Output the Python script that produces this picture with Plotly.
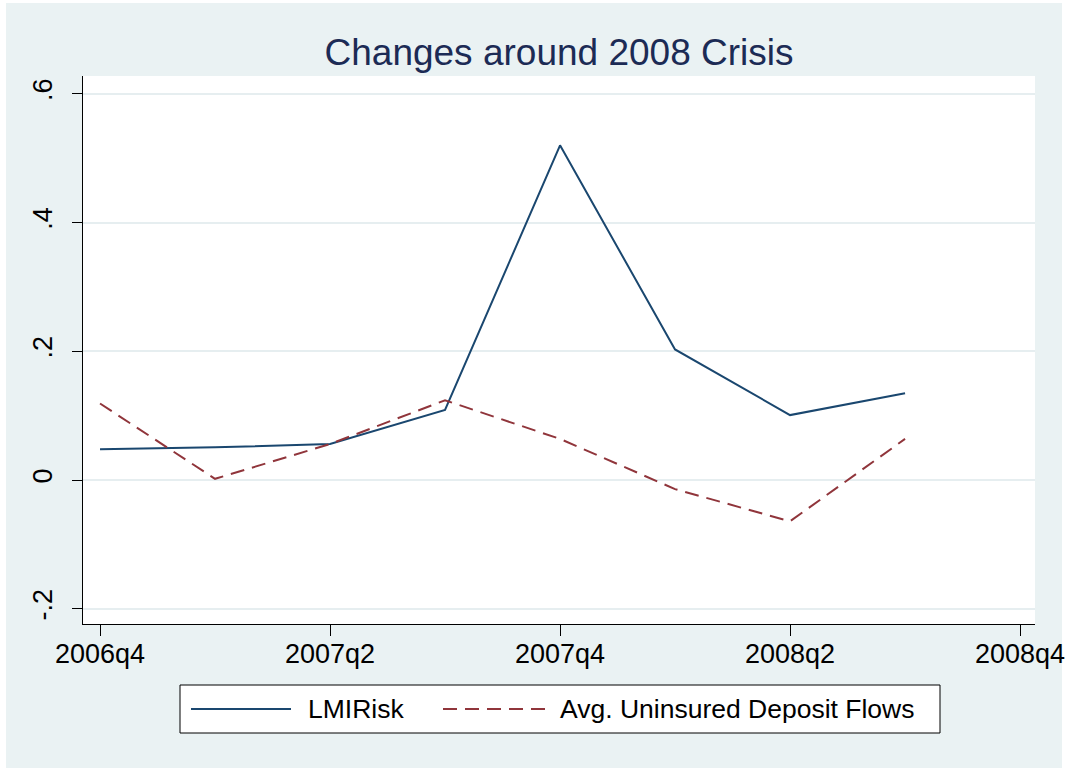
import plotly.graph_objects as go

# ---------------- data ----------------
quarters = ["2006q4", "2007q1", "2007q2", "2007q3", "2007q4", "2008q1", "2008q2", "2008q3"]
lmi_risk = [0.048, 0.051, 0.056, 0.109, 0.520, 0.203, 0.101, 0.135]
deposit_flows = [0.119, 0.002, 0.056, 0.124, 0.064, -0.014, -0.064, 0.064]
x_tick_labels = ["2006q4", "2007q2", "2007q4", "2008q2", "2008q4"]
y_tick_vals = [-0.2, 0.0, 0.2, 0.4, 0.6]
y_tick_text = ["-.2", "0", ".2", ".4", ".6"]
series_names = ["LMIRisk", "Avg. Uninsured Deposit Flows"]

# ---------------- style ----------------
W, H = 1065, 768
L, R, T, B = 83, 1035, 76, 624  # plot area in pixels
BG = "#EAF2F3"
NAVY = "#1a476f"
MAROON = "#90353b"
TITLE_C = "#1c2b55"
FONT = "Liberation Sans, Arial, sans-serif"

x_idx = list(range(len(quarters)))
tick_pos = [i * 2 for i in range(len(x_tick_labels))]


def px(xp):
    return (xp - L) / (R - L)


def py(yp):
    return (B - yp) / (B - T)


fig = go.Figure()
fig.add_trace(go.Scatter(x=x_idx, y=lmi_risk, mode="lines", name=series_names[0],
                         line=dict(color=NAVY, width=2)))
fig.add_trace(go.Scatter(x=x_idx, y=deposit_flows, mode="lines", name=series_names[1],
                         line=dict(color=MAROON, width=2, dash="14px,8px")))

shapes = [
    # outer graph region background
    dict(type="rect", xref="paper", yref="paper", x0=px(6), x1=px(1062), y0=py(H + 5), y1=py(3),
         fillcolor=BG, line=dict(width=0), layer="below"),
    # plot region
    dict(type="rect", xref="paper", yref="paper", x0=0, x1=1, y0=0, y1=1,
         fillcolor="white", line=dict(width=0), layer="below"),
    # legend box
    dict(type="rect", xref="paper", yref="paper", x0=px(180), x1=px(940), y0=py(733), y1=py(685),
         fillcolor="white", line=dict(color="black", width=1), layer="above"),
    # legend samples
    dict(type="line", xref="paper", yref="paper", x0=px(191), x1=px(291), y0=py(709), y1=py(709),
         line=dict(color=NAVY, width=2)),
    dict(type="line", xref="paper", yref="paper", x0=px(443), x1=px(545), y0=py(709), y1=py(709),
         line=dict(color=MAROON, width=2, dash="14px,8px")),
]

annotations = [
    dict(xref="paper", yref="paper", x=px(306), y=py(709), text=series_names[0], showarrow=False,
         xanchor="left", yanchor="middle", font=dict(family=FONT, size=26.5, color="black")),
    dict(xref="paper", yref="paper", x=px(558), y=py(709), text=series_names[1], showarrow=False,
         xanchor="left", yanchor="middle", font=dict(family=FONT, size=26.5, color="black")),
]

fig.update_layout(
    width=W, height=H,
    autosize=False,
    margin=dict(l=L, r=W - R, t=T, b=H - B, pad=0, autoexpand=False),
    paper_bgcolor="white",
    plot_bgcolor="white",
    showlegend=False,
    title=dict(text="Changes around 2008 Crisis", x=(L + R) / 2 / W, xanchor="center",
               y=1 - 52 / H, yanchor="middle", yref="container",
               font=dict(family=FONT, size=37, color=TITLE_C)),
    font=dict(family=FONT, size=27, color="black"),
    shapes=shapes,
    annotations=annotations,
)

fig.update_xaxes(
    range=[-0.148, 8.13],
    tickmode="array", tickvals=tick_pos, ticktext=x_tick_labels,
    showgrid=False, zeroline=False, automargin=False,
    showline=True, linecolor="black", linewidth=1,
    ticks="outside", ticklen=11, tickwidth=1, tickcolor="black",
    ticklabelstandoff=-5,
    ticklabeloverflow="allow",
    tickfont=dict(family=FONT, size=27, color="black"),
)
fig.update_yaxes(
    range=[-0.2235, 0.6277],
    tickmode="array", tickvals=y_tick_vals, ticktext=y_tick_text,
    showgrid=True, gridcolor="#E6EEF0", gridwidth=2, zeroline=False, automargin=False,
    showline=True, linecolor="black", linewidth=1,
    ticks="outside", ticklen=10, tickwidth=1, tickcolor="black",
    tickangle=-90,
    ticklabelstandoff=9,
    ticklabeloverflow="allow",
    tickfont=dict(family=FONT, size=27, color="black"),
)

fig.write_html(
    "out.html",
    config={"displayModeBar": False, "responsive": False},
    post_script="document.body.style.margin='0px';document.body.style.overflow='hidden';"
                "document.documentElement.style.overflow='hidden';",
)
